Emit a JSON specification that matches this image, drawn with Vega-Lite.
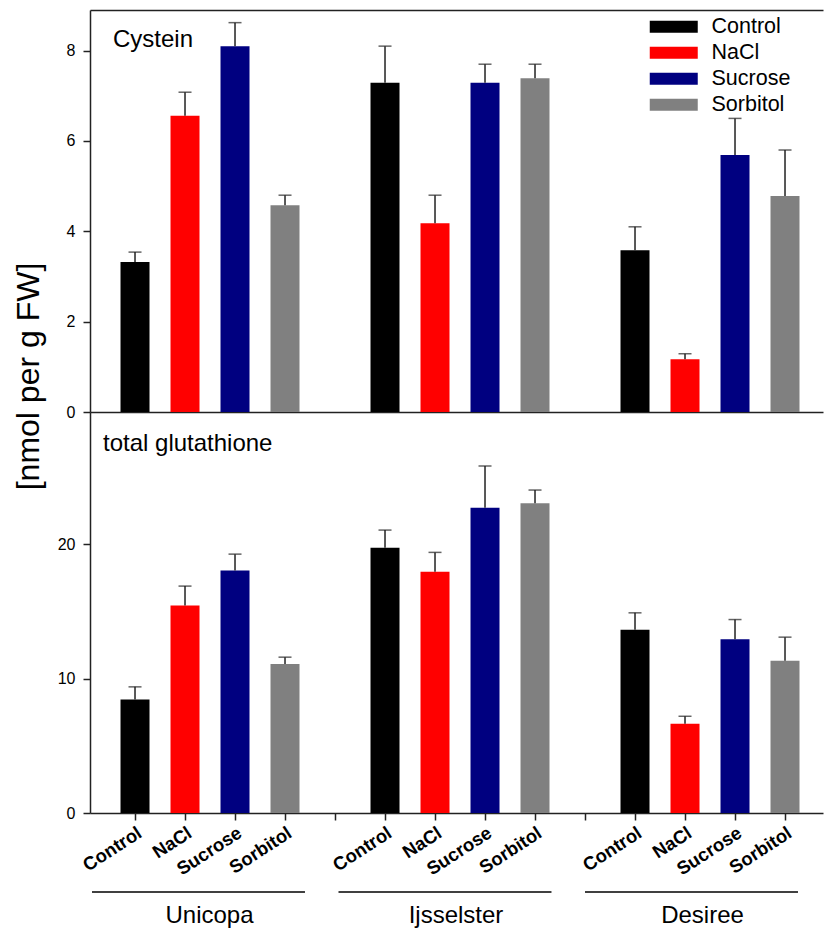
{
  "$schema": "https://vega.github.io/schema/vega-lite/v6.json",
  "padding": {"left": 12, "top": 10, "right": 1, "bottom": 0},
  "spacing": 0,
  "bounds": "flush",
  "config": {
    "font": "Liberation Sans",
    "view": {"stroke": null},
    "axis": {"domainColor": "#222", "tickColor": "#222", "domainWidth": 1.5, "tickWidth": 1.5, "labelColor": "#000", "grid": false, "tickSize": 7, "labelFontSize": 16, "labelFont": "Liberation Sans"}
  },
  "resolve": {"legend": {"color": "independent"}},
  "datasets": {
    "bars": [
      {"metric": "Cystein", "cultivar": "Unicopa", "treatment": "Control", "slot": "Unicopa|Control", "value": 3.32, "upper": 3.54},
      {"metric": "Cystein", "cultivar": "Unicopa", "treatment": "NaCl", "slot": "Unicopa|NaCl", "value": 6.56, "upper": 7.08},
      {"metric": "Cystein", "cultivar": "Unicopa", "treatment": "Sucrose", "slot": "Unicopa|Sucrose", "value": 8.10, "upper": 8.62},
      {"metric": "Cystein", "cultivar": "Unicopa", "treatment": "Sorbitol", "slot": "Unicopa|Sorbitol", "value": 4.58, "upper": 4.80},
      {"metric": "Cystein", "cultivar": "Ijsselster", "treatment": "Control", "slot": "Ijsselster|Control", "value": 7.29, "upper": 8.10},
      {"metric": "Cystein", "cultivar": "Ijsselster", "treatment": "NaCl", "slot": "Ijsselster|NaCl", "value": 4.18, "upper": 4.80},
      {"metric": "Cystein", "cultivar": "Ijsselster", "treatment": "Sucrose", "slot": "Ijsselster|Sucrose", "value": 7.29, "upper": 7.70},
      {"metric": "Cystein", "cultivar": "Ijsselster", "treatment": "Sorbitol", "slot": "Ijsselster|Sorbitol", "value": 7.39, "upper": 7.70},
      {"metric": "Cystein", "cultivar": "Desiree", "treatment": "Control", "slot": "Desiree|Control", "value": 3.58, "upper": 4.10},
      {"metric": "Cystein", "cultivar": "Desiree", "treatment": "NaCl", "slot": "Desiree|NaCl", "value": 1.17, "upper": 1.29},
      {"metric": "Cystein", "cultivar": "Desiree", "treatment": "Sucrose", "slot": "Desiree|Sucrose", "value": 5.69, "upper": 6.50},
      {"metric": "Cystein", "cultivar": "Desiree", "treatment": "Sorbitol", "slot": "Desiree|Sorbitol", "value": 4.78, "upper": 5.80},
      {"metric": "total glutathione", "cultivar": "Unicopa", "treatment": "Control", "slot": "Unicopa|Control", "value": 8.44, "upper": 9.39},
      {"metric": "total glutathione", "cultivar": "Unicopa", "treatment": "NaCl", "slot": "Unicopa|NaCl", "value": 15.45, "upper": 16.89},
      {"metric": "total glutathione", "cultivar": "Unicopa", "treatment": "Sucrose", "slot": "Unicopa|Sucrose", "value": 18.05, "upper": 19.27},
      {"metric": "total glutathione", "cultivar": "Unicopa", "treatment": "Sorbitol", "slot": "Unicopa|Sorbitol", "value": 11.10, "upper": 11.60},
      {"metric": "total glutathione", "cultivar": "Ijsselster", "treatment": "Control", "slot": "Ijsselster|Control", "value": 19.75, "upper": 21.06},
      {"metric": "total glutathione", "cultivar": "Ijsselster", "treatment": "NaCl", "slot": "Ijsselster|NaCl", "value": 17.96, "upper": 19.40},
      {"metric": "total glutathione", "cultivar": "Ijsselster", "treatment": "Sucrose", "slot": "Ijsselster|Sucrose", "value": 22.73, "upper": 25.83},
      {"metric": "total glutathione", "cultivar": "Ijsselster", "treatment": "Sorbitol", "slot": "Ijsselster|Sorbitol", "value": 23.05, "upper": 24.04},
      {"metric": "total glutathione", "cultivar": "Desiree", "treatment": "Control", "slot": "Desiree|Control", "value": 13.64, "upper": 14.90},
      {"metric": "total glutathione", "cultivar": "Desiree", "treatment": "NaCl", "slot": "Desiree|NaCl", "value": 6.65, "upper": 7.20},
      {"metric": "total glutathione", "cultivar": "Desiree", "treatment": "Sucrose", "slot": "Desiree|Sucrose", "value": 12.94, "upper": 14.40},
      {"metric": "total glutathione", "cultivar": "Desiree", "treatment": "Sorbitol", "slot": "Desiree|Sorbitol", "value": 11.33, "upper": 13.09}
    ],
    "groups": [
      {"cultivar": "Unicopa"},
      {"cultivar": "Ijsselster"},
      {"cultivar": "Desiree"}
    ]
  },
  "vconcat": [
    {
      "width": 733,
      "height": 402,
      "title": {"text": "Cystein", "anchor": "start", "orient": "top", "frame": "group", "offset": 0, "dx": 23, "dy": 61, "baseline": "alphabetic", "fontSize": 24, "fontWeight": "normal", "color": "#000"},
      "data": {"name": "bars"},
      "transform": [{"filter": "datum.metric === 'Cystein'"}],
      "resolve": {"axis": {"x": "independent"}},
      "layer": [
        {
          "mark": {"type": "bar"},
          "encoding": {
            "x": {"field": "slot", "type": "nominal", "sort": null,
              "scale": {"type": "band", "domain": ["Unicopa|Control", "Unicopa|NaCl", "Unicopa|Sucrose", "Unicopa|Sorbitol", "gap1", "Ijsselster|Control", "Ijsselster|NaCl", "Ijsselster|Sucrose", "Ijsselster|Sorbitol", "gap2", "Desiree|Control", "Desiree|NaCl", "Desiree|Sucrose", "Desiree|Sorbitol"], "paddingInner": 0.42, "paddingOuter": 0.54, "align": 0.565},
              "axis": {"orient": "top", "ticks": false, "labels": false, "domain": true, "title": null}},
            "y": {"field": "value", "type": "quantitative",
              "scale": {"domain": [0, 8.9], "nice": false, "zero": true},
              "axis": {"values": [0, 2, 4, 6, 8], "labelPadding": 8, "title": "[nmol per g FW]", "titleFontSize": 32, "titleFontWeight": "normal", "titleColor": "#000", "titleAngle": -90, "titleAlign": "center", "titleBaseline": "alphabetic", "titleX": -52, "titleY": 366}},
            "color": {"field": "treatment", "type": "nominal",
              "scale": {"domain": ["Control", "NaCl", "Sucrose", "Sorbitol"], "range": ["#000000", "#ff0000", "#000080", "#808080"]},
              "legend": {"orient": "none", "legendX": 573, "legendY": 6, "title": null, "symbolType": "M-4,-1H4V1H-4Z", "symbolSize": 144, "symbolStrokeWidth": 0, "symbolOpacity": 1, "labelFontSize": 21.5, "labelOffset": 27, "rowPadding": 3, "labelColor": "#000", "labelFont": "Liberation Sans"}}
          }
        },
        {
          "mark": {"type": "rule", "color": "#222", "strokeWidth": 1.5},
          "encoding": {
            "x": {"field": "slot", "type": "nominal", "axis": {"orient": "bottom", "ticks": false, "labels": false, "domain": true, "title": null}},
            "y": {"field": "value", "type": "quantitative", "axis": {"title": "[nmol per g FW]"}},
            "y2": {"field": "upper"}
          }
        },
        {
          "mark": {"type": "tick", "color": "#222", "thickness": 1.5, "size": 13, "orient": "horizontal"},
          "encoding": {
            "x": {"field": "slot", "type": "nominal", "axis": null},
            "y": {"field": "upper", "type": "quantitative", "axis": {"title": "[nmol per g FW]"}}
          }
        }
      ]
    },
    {
      "width": 733,
      "height": 401,
      "title": {"text": "total glutathione", "anchor": "start", "orient": "top", "frame": "group", "offset": 0, "dx": 13, "dy": 63, "baseline": "alphabetic", "fontSize": 24, "fontWeight": "normal", "color": "#000"},
      "resolve": {"scale": {"x": "independent"}, "axis": {"x": "independent"}},
      "layer": [
        {
          "data": {"name": "bars"},
          "transform": [{"filter": "datum.metric === 'total glutathione'"}],
          "layer": [
            {
              "mark": {"type": "bar"},
              "encoding": {
                "x": {"field": "slot", "type": "nominal", "sort": null,
                  "scale": {"type": "band", "domain": ["Unicopa|Control", "Unicopa|NaCl", "Unicopa|Sucrose", "Unicopa|Sorbitol", "gap1", "Ijsselster|Control", "Ijsselster|NaCl", "Ijsselster|Sucrose", "Ijsselster|Sorbitol", "gap2", "Desiree|Control", "Desiree|NaCl", "Desiree|Sucrose", "Desiree|Sorbitol"], "paddingInner": 0.42, "paddingOuter": 0.54, "align": 0.565},
                  "axis": {"orient": "bottom", "title": null, "ticks": true, "labels": true, "domain": true, "labelAngle": -33, "labelFontWeight": "bold", "labelFontSize": 18.5, "labelPadding": 3, "labelExpr": "indexof(datum.value, 'gap') >= 0 ? '' : split(datum.value, '|')[1]"}},
                "y": {"field": "value", "type": "quantitative",
                  "scale": {"domain": [0, 29.85], "nice": false, "zero": true},
                  "axis": {"values": [0, 10, 20], "labelPadding": 8, "title": null}},
                "color": {"field": "treatment", "type": "nominal", "legend": null}
              }
            },
            {
              "mark": {"type": "rule", "color": "#222", "strokeWidth": 1.5},
              "encoding": {
                "x": {"field": "slot", "type": "nominal", "axis": {"title": null}},
                "y": {"field": "value", "type": "quantitative", "axis": {"title": null}},
                "y2": {"field": "upper"}
              }
            },
            {
              "mark": {"type": "tick", "color": "#222", "thickness": 1.5, "size": 13, "orient": "horizontal"},
              "encoding": {
                "x": {"field": "slot", "type": "nominal", "axis": {"title": null}},
                "y": {"field": "upper", "type": "quantitative", "axis": {"title": null}}
              }
            }
          ]
        },
        {
          "data": {"name": "groups"},
          "layer": [
            {
              "mark": {"type": "rule", "color": "#000", "strokeWidth": 1.3, "yOffset": 79},
              "encoding": {
                "x": {"field": "cultivar", "type": "nominal", "sort": null, "bandPosition": 0,
                  "scale": {"type": "band", "domain": ["Unicopa", "Ijsselster", "Desiree"], "paddingInner": 0.136, "paddingOuter": 0.0548, "align": 0.074},
                  "axis": null},
                "x2": {"field": "cultivar", "bandPosition": 1},
                "y": {"datum": 0, "type": "quantitative", "axis": {"title": null}}
              }
            },
            {
              "mark": {"type": "text", "fontSize": 24, "color": "#000", "baseline": "alphabetic", "align": "center", "dx": 11, "yOffset": 110},
              "encoding": {
                "x": {"field": "cultivar", "type": "nominal", "sort": null, "bandPosition": 0.5, "axis": null},
                "y": {"datum": 0, "type": "quantitative", "axis": {"title": null}},
                "text": {"field": "cultivar"}
              }
            }
          ]
        }
      ]
    }
  ]
}
